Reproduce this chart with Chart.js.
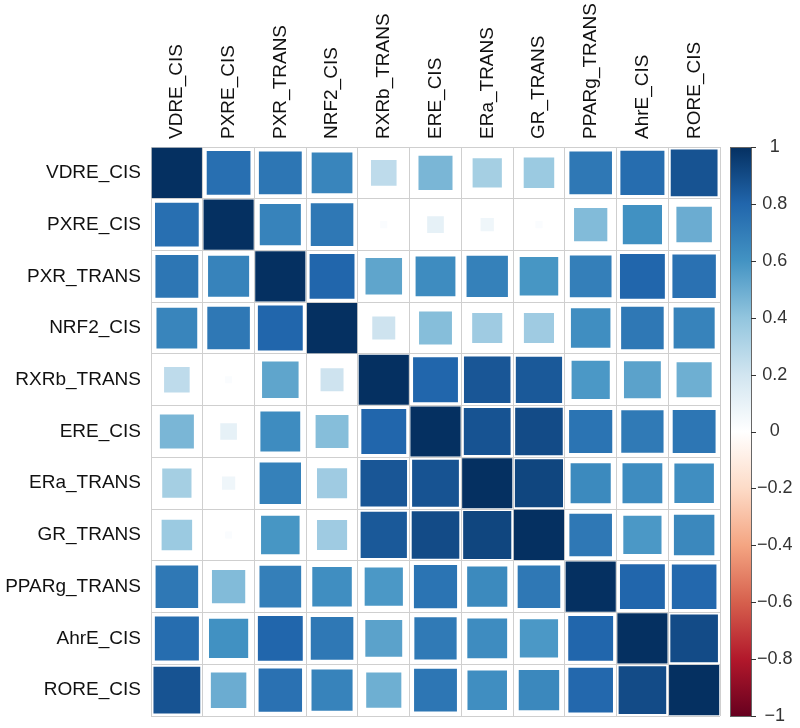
<!DOCTYPE html>
<html>
<head>
<meta charset="utf-8">
<script src="https://cdn.jsdelivr.net/npm/chart.js@4/dist/chart.umd.min.js"></script>
<style>
  html, body { margin: 0; padding: 0; background: #fff; }
  canvas { display: block; }
</style>
</head>
<body>
<canvas id="myChart" width="800" height="728"></canvas>
<script>
const labels = ['VDRE_CIS', 'PXRE_CIS', 'PXR_TRANS', 'NRF2_CIS', 'RXRb_TRANS', 'ERE_CIS',
                'ERa_TRANS', 'GR_TRANS', 'PPARg_TRANS', 'AhrE_CIS', 'RORE_CIS'];

// correlation matrix, one row per label
const corrRows = [
  [1.00, 0.76, 0.73, 0.66, 0.26, 0.46, 0.34, 0.37, 0.72, 0.77, 0.87],
  [0.76, 1.00, 0.67, 0.72, 0.02, 0.11, 0.07, 0.02, 0.44, 0.61, 0.50],
  [0.73, 0.67, 1.00, 0.80, 0.53, 0.63, 0.68, 0.59, 0.69, 0.80, 0.75],
  [0.66, 0.72, 0.80, 1.00, 0.21, 0.43, 0.36, 0.36, 0.62, 0.72, 0.67],
  [0.26, 0.02, 0.53, 0.21, 1.00, 0.80, 0.86, 0.85, 0.58, 0.54, 0.49],
  [0.46, 0.11, 0.63, 0.43, 0.80, 1.00, 0.87, 0.90, 0.74, 0.71, 0.73],
  [0.34, 0.07, 0.68, 0.36, 0.86, 0.87, 1.00, 0.92, 0.64, 0.63, 0.62],
  [0.37, 0.02, 0.59, 0.36, 0.85, 0.90, 0.92, 1.00, 0.72, 0.58, 0.65],
  [0.72, 0.44, 0.69, 0.62, 0.58, 0.74, 0.64, 0.72, 1.00, 0.80, 0.79],
  [0.77, 0.61, 0.80, 0.72, 0.54, 0.71, 0.63, 0.58, 0.80, 1.00, 0.90],
  [0.87, 0.50, 0.75, 0.67, 0.49, 0.73, 0.62, 0.65, 0.79, 0.90, 1.00]
];

// RdBu palette from -1 to 1
const paletteStops = ['#67001F', '#B2182B', '#D6604D', '#F4A582', '#FDDBC7', '#FFFFFF',
                      '#D1E5F0', '#92C5DE', '#4393C3', '#2166AC', '#053061'];
const colorBarTicks = [-1, -0.8, -0.6, -0.4, -0.2, 0, 0.2, 0.4, 0.6, 0.8, 1];

function hexToRgb(h) {
  return [parseInt(h.slice(1, 3), 16), parseInt(h.slice(3, 5), 16), parseInt(h.slice(5, 7), 16)];
}

function corrColor(v) {
  const t = (v + 1) / 2 * (paletteStops.length - 1);
  const i = Math.min(Math.floor(t), paletteStops.length - 2);
  const f = t - i;
  const a = hexToRgb(paletteStops[i]);
  const b = hexToRgb(paletteStops[i + 1]);
  const c = a.map((x, k) => Math.round(x + (b[k] - x) * f));
  return `rgb(${c[0]}, ${c[1]}, ${c[2]})`;
}

const points = [];
corrRows.forEach((row, i) => {
  row.forEach((v, j) => {
    points.push({ x: labels[j], y: labels[i], v: v });
  });
});

// draws the colour legend next to the matrix, using the 'cb' scale
const colorBarPlugin = {
  id: 'colorBar',
  afterDraw(chart) {
    const s = chart.scales.cb;
    const c = chart.ctx;
    const x0 = s.left + 10;
    const w = 21;
    const yTop = s.getPixelForValue(1);
    const yBot = s.getPixelForValue(-1);
    const grad = c.createLinearGradient(0, yBot, 0, yTop);
    paletteStops.forEach((col, k) => grad.addColorStop(k / (paletteStops.length - 1), col));
    c.save();
    c.fillStyle = grad;
    c.fillRect(x0, yTop, w, yBot - yTop);
    c.strokeStyle = '#666';
    c.lineWidth = 1;
    c.strokeRect(x0 + 0.5, yTop + 0.5, w, yBot - yTop);
    c.strokeStyle = '#333';
    s.ticks.forEach(t => {
      const y = Math.round(s.getPixelForValue(t.value)) + 0.5;
      c.beginPath();
      c.moveTo(x0 + w, y);
      c.lineTo(x0 + w + 5, y);
      c.stroke();
    });
    c.restore();
  }
};

Chart.defaults.font.family = '"Liberation Sans", Arial, sans-serif';

const ctx = document.getElementById('myChart').getContext('2d');
const myChart = new Chart(ctx, {
  type: 'scatter',
  data: {
    datasets: [{
      data: points,
      pointStyle: 'rect',
      backgroundColor: c => corrColor(c.raw.v),
      borderWidth: 0,
      pointRadius: c => {
        const sx = c.chart.scales.x;
        const cell = Math.abs(sx.getPixelForValue(1) - sx.getPixelForValue(0));
        return cell * 0.97 * Math.sqrt(Math.abs(c.raw.v)) / Math.SQRT2;
      }
    }]
  },
  options: {
    responsive: false,
    animation: false,
    events: [],
    layout: { padding: { bottom: 12 } },
    plugins: { legend: { display: false }, tooltip: { enabled: false } },
    scales: {
      x: {
        type: 'category',
        labels: labels,
        position: 'top',
        offset: true,
        grid: { offset: true, color: '#cfcfcf', drawTicks: false },
        border: { color: '#cfcfcf' },
        ticks: {
          autoSkip: false, minRotation: 90, maxRotation: 90, padding: 8,
          labelOffset: 23, color: '#111', font: { size: 19 }
        },
        afterFit: s => { s.height = 147; s.paddingLeft = 0; s.paddingRight = 0; }
      },
      y: {
        type: 'category',
        labels: labels,
        offset: true,
        grid: { offset: true, color: '#cfcfcf', drawTicks: false },
        border: { color: '#cfcfcf' },
        ticks: { autoSkip: false, padding: 10, color: '#111', font: { size: 19 } },
        afterFit: s => { s.width = 151; s.paddingTop = 0; s.paddingBottom = 0; }
      },
      cb: {
        type: 'linear',
        position: 'right',
        min: -1,
        max: 1,
        grid: { display: false, drawTicks: false },
        border: { display: false },
        afterBuildTicks: s => { s.ticks = colorBarTicks.map(v => ({ value: v })); },
        ticks: {
          padding: 37,
          crossAlign: 'center',
          color: '#333',
          font: { size: 18 },
          callback: v => {
            const r = Math.round(v * 10) / 10;
            return r < 0 ? '\u2212' + Math.abs(r) : String(r);
          }
        },
        afterFit: s => { s.width = 80; s.paddingTop = 0; s.paddingBottom = 0; }
      }
    }
  },
  plugins: [colorBarPlugin]
});
</script>
</body>
</html>
